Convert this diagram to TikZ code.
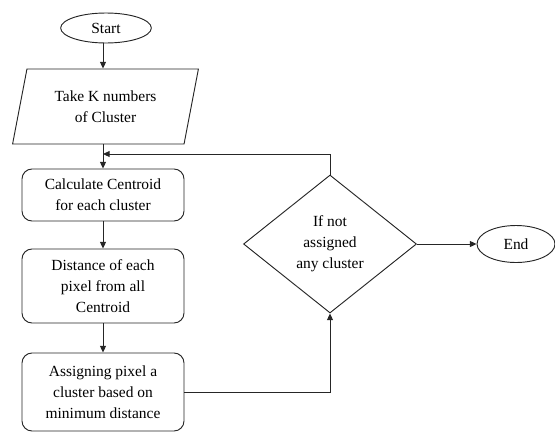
\documentclass[tikz,border=0pt]{standalone}
\usepackage{fontspec}
\setmainfont{Liberation Serif}
\usetikzlibrary{shapes.geometric,arrows.meta}
\begin{document}
\begin{tikzpicture}[x=0.75pt,y=-0.75pt,
  every node/.style={font=\fontsize{11.6}{15.75}\selectfont, align=center, inner sep=0pt},
  line/.style={draw=black!85, line width=0.7pt},
  arr/.style={line, -{Triangle[length=5pt,width=4.5pt]}},
  term/.style={ellipse, line},
  proc/.style={rectangle, rounded corners=7.5pt, line, minimum width=121.5pt},
  io/.style={trapezium, trapezium left angle=73.7, trapezium right angle=106.3, trapezium stretches=true, line},
  dec/.style={diamond, line, minimum width=129.75pt, minimum height=103.5pt, aspect=1.25}
]
\useasboundingbox (0,0) rectangle (555,432);
\node[term, minimum width=68pt, minimum height=22.5pt] (start) at (106,28) {Start};
\node[io, minimum width=140pt, minimum height=56.25pt] (take) at (105.5,106.5) {Take K numbers\\of Cluster};
\node[proc, minimum height=39pt] (calc) at (103,195) {Calculate Centroid\\for each cluster};
\node[proc, minimum height=55.5pt] (dist) at (103,286) {Distance of each\\pixel from all\\Centroid};
\node[proc, minimum height=58.5pt] (asg) at (103,392) {Assigning pixel a\\cluster based on\\minimum distance};
\node[dec] (dia) at (330,244) {If not\\assigned\\any cluster};
\node[term, minimum width=58.5pt, minimum height=27.75pt] (end) at (516,244) {End};
\coordinate (j) at (103,154);
\draw[arr] (start.south -| calc.north) -- (take.north -| calc.north);
\draw[arr] (take.south -| calc.north) -- (calc.north);
\draw[arr] (dia.north) |- (j);
\draw[arr] (calc.south) -- (dist.north);
\draw[arr] (dist.south) -- (asg.north);
\draw[arr] (asg.east) -| (dia.south);
\draw[arr] (dia.east) -- (end.west);
\end{tikzpicture}
\end{document}
